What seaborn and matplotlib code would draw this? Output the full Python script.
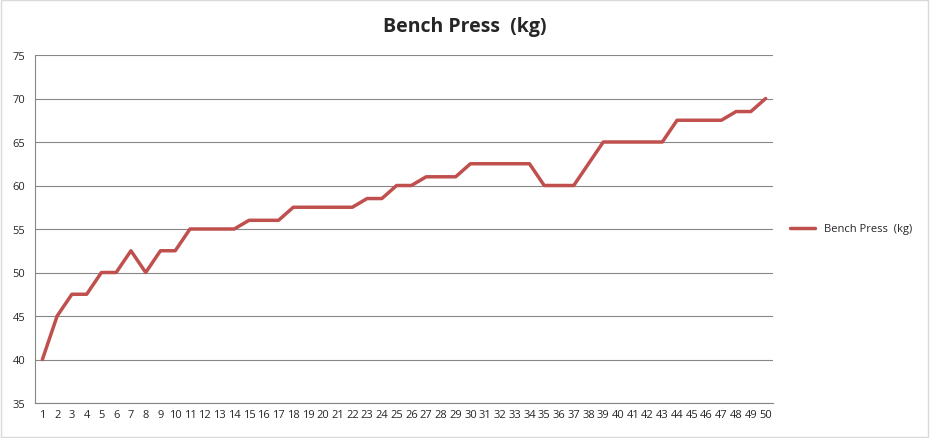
import numpy as np
import pandas as pd
import matplotlib.pyplot as plt
import seaborn as sns

sns.set_style('white')
plt.rcParams['font.family'] = ['Open Sans', 'DejaVu Sans']

sessions = list(range(1, 51))
bench = [40, 45, 47.5, 47.5, 50, 50, 52.5, 50, 52.5, 52.5,
         55, 55, 55, 55, 56, 56, 56, 57.5, 57.5, 57.5,
         57.5, 57.5, 58.5, 58.5, 60, 60, 61, 61, 61, 62.5,
         62.5, 62.5, 62.5, 62.5, 60, 60, 60, 62.5, 65, 65,
         65, 65, 65, 67.5, 67.5, 67.5, 67.5, 68.5, 68.5, 70]
y_ticks = [35, 40, 45, 50, 55, 60, 65, 70, 75]

df = pd.DataFrame({'session': sessions, 'kg': bench})

fig = plt.figure(figsize=(9.3, 4.39), dpi=100)
ax = fig.add_axes([35/930, 35/439, 738/930, 348/439])
sns.lineplot(data=df, x='session', y='kg', ax=ax, color='#C0504D', linewidth=2.5,
             label='Bench Press  (kg)')

ax.set_xlim(0.5, 50.5)
ax.set_ylim(35, 75)
ax.set_xticks(sessions)
ax.set_xticklabels([str(s) for s in sessions], fontsize=8)
ax.set_yticks(y_ticks)
ax.set_yticklabels([str(t) for t in y_ticks], fontsize=8)
ax.yaxis.grid(True, color='#868686', linewidth=0.8)
ax.set_axisbelow(True)
for side in ['top', 'right']:
    ax.spines[side].set_visible(False)
ax.spines['left'].set_color('#868686')
ax.spines['bottom'].set_color('#868686')
ax.tick_params(axis='x', length=0, pad=4)
ax.tick_params(axis='y', length=4, width=0.8, color='#868686', direction='out', pad=3)
ax.set_xlabel('')
ax.set_ylabel('')

fig.text(0.5, 1 - 27/439, 'Bench Press  (kg)', ha='center', va='center',
         fontsize=14, fontweight='bold')
ax.legend(loc='center left', bbox_to_anchor=(1.01, 0.5), frameon=False, fontsize=8,
          handlelength=2.2)

fig.patches.append(plt.Rectangle((0.001, 0.002), 0.997, 0.995, transform=fig.transFigure,
                                 fill=False, edgecolor='#D9D9D9', linewidth=1))
fig.savefig('out.png', dpi=100)
